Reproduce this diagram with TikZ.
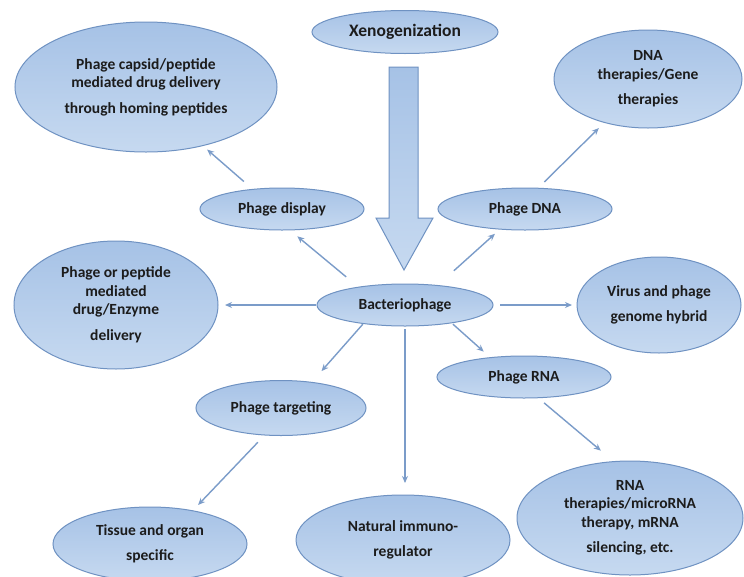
\documentclass[tikz,border=0pt]{standalone}
\usepackage{fontspec}
\setmainfont{Carlito}
\usetikzlibrary{shapes.geometric,arrows.meta}
\definecolor{bordc}{HTML}{6F92C2}
\definecolor{ftop}{HTML}{A6C2E6}
\definecolor{fbot}{HTML}{C6D9F0}
\definecolor{arrc}{HTML}{7B9CC9}
\definecolor{txtc}{HTML}{1C1C1C}
\tikzset{
  ell/.style={ellipse, draw=bordc, line width=1pt, top color=ftop, bottom color=fbot,
    text=txtc, align=center, inner sep=0pt, outer sep=0pt,
    font=\fontsize{15.5}{18.5}\selectfont\bfseries},
  arr/.style={draw=arrc, line width=1.4pt, -{Stealth[length=7pt,width=6pt]}},
  bigarrow/.style={draw=bordc, line width=1pt, top color=ftop, bottom color=fbot}
}
\begin{document}
\begin{tikzpicture}[x=1pt,y=-1pt]
\useasboundingbox (0,0) rectangle (744,576);
\fill[white] (0,0) rectangle (744,576);
\clip (0,0) rectangle (744,576);

% big block arrow
\draw[bigarrow] (389,67) -- (418,67) -- (418,218) -- (433,218) -- (404,270) -- (376,218) -- (389,218) -- cycle;

\node[ell, minimum width=186pt, minimum height=43pt, font=\fontsize{17.5}{20}\selectfont\bfseries] (xeno) at (405,32) {Xenogenization};
\node[ell, minimum width=262pt, minimum height=130pt] (capsid) at (146,87) {Phage capsid/peptide\\ mediated drug delivery\\[7pt] through homing peptides};
\node[ell, minimum width=188pt, minimum height=98pt] (dnather) at (648,79) {DNA\\ therapies/Gene\\[7pt] therapies};
\node[ell, minimum width=164pt, minimum height=42pt] (disp) at (282,209) {Phage display};
\node[ell, minimum width=174pt, minimum height=42pt] (pdna) at (525,209) {Phage DNA};
\node[ell, minimum width=176pt, minimum height=42pt] (bact) at (405,305) {Bacteriophage};
\node[ell, minimum width=204pt, minimum height=128pt] (ppep) at (116,305) {Phage or peptide\\ mediated\\ drug/Enzyme\\[7pt] delivery};
\node[ell, minimum width=164pt, minimum height=96pt] (virus) at (659,305) {Virus and phage\\[7pt] genome hybrid};
\node[ell, minimum width=174pt, minimum height=42pt] (prna) at (524,377) {Phage RNA};
\node[ell, minimum width=170pt, minimum height=55pt] (targ) at (281,408) {Phage targeting};
\node[ell, minimum width=194pt, minimum height=74pt] (tissue) at (150,544) {Tissue and organ\\[6pt] specific};
\node[ell, minimum width=214pt, minimum height=90pt] (immuno) at (403,540) {Natural immuno-\\[6pt] regulator};
\node[ell, minimum width=226pt, minimum height=114pt] (rnather) at (630,518) {RNA\\ therapies/microRNA\\ therapy, mRNA\\[7pt] silencing, etc.};

% connectors
\draw[arr, shorten <=12pt, shorten >=6pt] (disp.146) -- (capsid.-46);
\draw[arr, shorten <=16pt, shorten >=10pt] (bact.159) -- (disp.-70);
\draw[arr, shorten <=22pt, shorten >=7pt] (bact.31) -- (pdna.-141);
\draw[arr, shorten <=9pt, shorten >=8pt] (pdna.58) -- (dnather.-135);
\draw[arr, shorten <=1pt, shorten >=7pt] (bact.west) -- (ppep.east);
\draw[arr, shorten <=7pt, shorten >=5pt] (bact.east) -- (virus.west);
\draw[arr, shorten <=2pt, shorten >=9pt] (bact.-21) -- (prna.150);
\draw[arr, shorten <=1pt, shorten >=15pt] (bact.204) -- (targ.40);
\draw[arr, shorten <=3pt, shorten >=12pt] (bact.south) -- (bact.south |- immuno.north);
\draw[arr, shorten <=10pt, shorten >=8pt] (targ.239) -- (tissue.38);
\draw[arr, shorten <=8pt, shorten >=17pt] (prna.-56) -- (rnather.106);
\end{tikzpicture}
\end{document}
